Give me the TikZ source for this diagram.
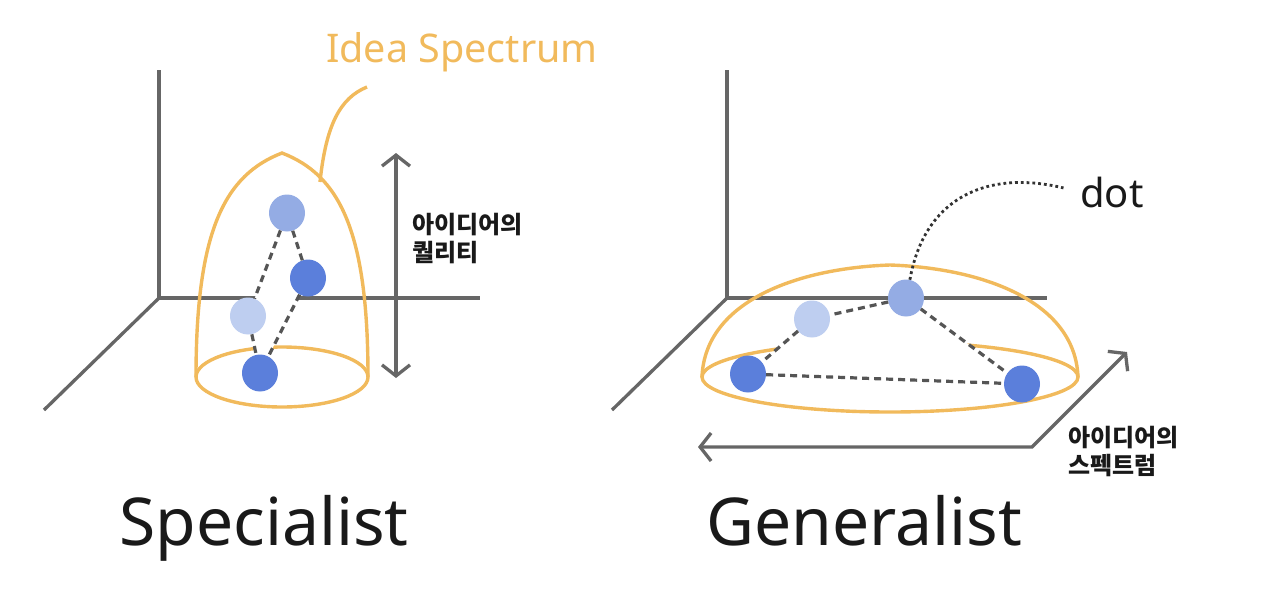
\documentclass[tikz,border=0pt]{standalone}
\usepackage{fontspec}
\setmainfont{Noto Sans}
\newfontfamily\krfont{Noto Sans CJK KR}
\usetikzlibrary{arrows.meta, shapes.geometric}

\definecolor{ideaorange}{RGB}{241,186,92}
\definecolor{axisgray}{RGB}{102,102,102}
\definecolor{linkgray}{RGB}{85,85,85}
\definecolor{dotdark}{RGB}{91,127,219}
\definecolor{dotmid}{RGB}{148,172,228}
\definecolor{dotlight}{RGB}{190,206,240}

\tikzset{
  axis/.style={draw=axisgray, line width=3.3pt},
  spectrum/.style={draw=ideaorange, line width=3.4pt},
  idea/.style={ellipse, minimum width=36pt, minimum height=37pt, inner sep=0pt},
  link/.style={draw=linkgray, line width=3.2pt, dash pattern=on 7pt off 5pt},
  measure/.style={draw=axisgray, line width=3.3pt,
    {Straight Barb[length=11pt,width=28pt]}-{Straight Barb[length=11pt,width=28pt]}},
  title/.style={font=\fontsize{66}{70}\selectfont, text=black!90, inner sep=0pt, anchor=base},
  korean/.style={font=\krfont\bfseries\fontsize{24}{28}\selectfont, text=black!90,
    align=left, inner sep=0pt, anchor=west},
}

\begin{document}
\begin{tikzpicture}[x=1pt, y=-1pt]
    \useasboundingbox (0,0) rectangle (1280,590);
    % left axes
    \coordinate (o1) at (159,298);
    \coordinate (z1) at (159,70);
    \coordinate (x1) at (480,298);
    \coordinate (y1) at (44,410);
    \draw[axis] (z1) -- (o1) -- (x1);
    \draw[axis] (o1) -- (y1);
    % right axes
    \coordinate (o2) at (727,298);
    \coordinate (z2) at (727,70);
    \coordinate (x2) at (1047,298);
    \coordinate (y2) at (612,410);
    \draw[axis] (z2) -- (o2) -- (x2);
    \draw[axis] (o2) -- (y2);

    % specialist cone
    \draw[spectrum] (282,377) ellipse [x radius=86pt, y radius=30pt];
    \draw[spectrum] (196,377) .. controls (196,230) and (225,175) .. (282,153)
        .. controls (339,175) and (368,230) .. (368,377);
    \coordinate (c1) at (320,182);
    \coordinate (c2) at (367,87);
    \draw[spectrum] (c1) .. controls (326,125) and (340,98) .. (c2);

    % generalist dome
    \draw[spectrum] (890,377) ellipse [x radius=188pt, y radius=35pt];
    \draw[spectrum] (702,377) .. controls (705,300) and (800,268) .. (890,265)
        .. controls (980,268) and (1075,300) .. (1078,377);

    % dots, left
    \coordinate (p1) at (287,213);
    \coordinate (p2) at (308,278);
    \coordinate (p3) at (248,316);
    \coordinate (p4) at (260,373);
    \fill[white] (p1) -- (p2) -- (p4) -- (p3) -- cycle;
    \node[idea, fill=dotmid] (s1) at (p1) {};
    \node[idea, fill=dotdark] (s2) at (p2) {};
    \node[idea, fill=dotlight] (s3) at (p3) {};
    \node[idea, fill=dotdark] (s4) at (p4) {};
    \draw[link] (s1) -- (s2);
    \draw[link] (s1) -- (s3);
    \draw[link] (s2) -- (s4);
    \draw[link] (s3) -- (s4);

    % dots, right
    \coordinate (q1) at (906,298);
    \coordinate (q2) at (812,319);
    \coordinate (q3) at (748,374);
    \coordinate (q4) at (1022,384);
    \fill[white] (q1) -- (q2) -- (q3) -- (q4) -- cycle;
    \node[idea, fill=dotmid] (g1) at (q1) {};
    \node[idea, fill=dotlight] (g2) at (q2) {};
    \node[idea, fill=dotdark] (g3) at (q3) {};
    \node[idea, fill=dotdark] (g4) at (q4) {};
    \draw[link] (g1) -- (g2);
    \draw[link] (g2) -- (g3);
    \draw[link] (g3) -- (g4);
    \draw[link] (g1) -- (g4);

    % quality arrow
    \coordinate (m1) at (396,153);
    \coordinate (m2) at (396,378);
    \draw[measure] (m1) -- (m2);
    % spectrum arrow
    \coordinate (n1) at (1127,352);
    \coordinate (n2) at (1032,447);
    \coordinate (n3) at (698,447);
    \draw[measure] (n1) -- (n2) -- (n3);

    % labels
    \node[title, text=ideaorange, font=\fontsize{39.5}{44}\selectfont] (ideaspec) at (462,62) {Idea Spectrum};
    \node[title, font=\fontsize{40}{44}\selectfont, anchor=base west] (dotlabel) at (1080,207) {dot};
    \draw[black!80, line width=2.8pt, dash pattern=on 2.8pt off 3pt, shorten >=17pt]
        (g1.78) .. controls (925,195) and (990,170) .. (dotlabel.west);
    \node[korean] (quality) at (412,239) {아이디어의\\퀄리티};
    \node[korean] (range) at (1068,451) {아이디어의\\스펙트럼};
    \node[title] (spec) at (264,545) {Specialist};
    \node[title] (gen) at (864,545) {Generalist};
\end{tikzpicture}
\end{document}
